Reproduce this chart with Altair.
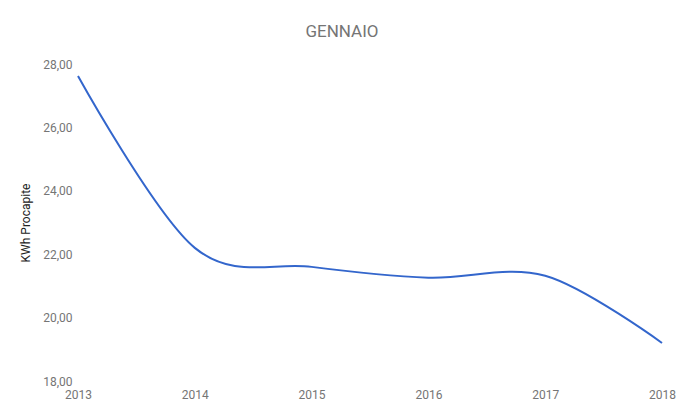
import altair as alt
import pandas as pd

years = [2013, 2014, 2015, 2016, 2017, 2018]
values = [27.62, 22.2, 21.6, 21.26, 21.32, 19.2]

df = pd.DataFrame({"anno": years, "kwh": values})

chart = alt.Chart(df).mark_line(
    interpolate="cardinal", color="#3366CC", strokeWidth=2
).encode(
    x=alt.X("anno:Q", scale=alt.Scale(domain=[2013, 2018], nice=False, zero=False),
            axis=alt.Axis(values=years, format="d", title=None, grid=False, domain=False,
                          ticks=False, labelPadding=8, labelFontSize=12, labelColor="#757575",
                          labelFont="Roboto", labelFlush=False)),
    y=alt.Y("kwh:Q", scale=alt.Scale(domain=[18, 28], nice=False, zero=False),
            axis=alt.Axis(values=[18, 20, 22, 24, 26, 28],
                          labelExpr="replace(format(datum.value, '.2f'), '.', ',')",
                          title="KWh Procapite", grid=False, domain=False, ticks=False,
                          labelPadding=6, labelFontSize=12, labelColor="#757575",
                          labelFont="Roboto", titleFont="Roboto", titleFontSize=12,
                          titleFontWeight="normal", titleColor="#222222", titlePadding=10)),
).properties(
    width=584, height=317,
    title=alt.TitleParams("GENNAIO", font="Roboto", fontSize=17, fontWeight="normal",
                          color="#757575", anchor="middle", offset=17, dx=-28),
    autosize=alt.AutoSizeParams(type="none"),
    padding={"left": 70, "top": 56, "right": 15, "bottom": 20},
).configure_view(stroke=None)

chart.save("out.html", embed_options={"renderer": "svg", "actions": False})
